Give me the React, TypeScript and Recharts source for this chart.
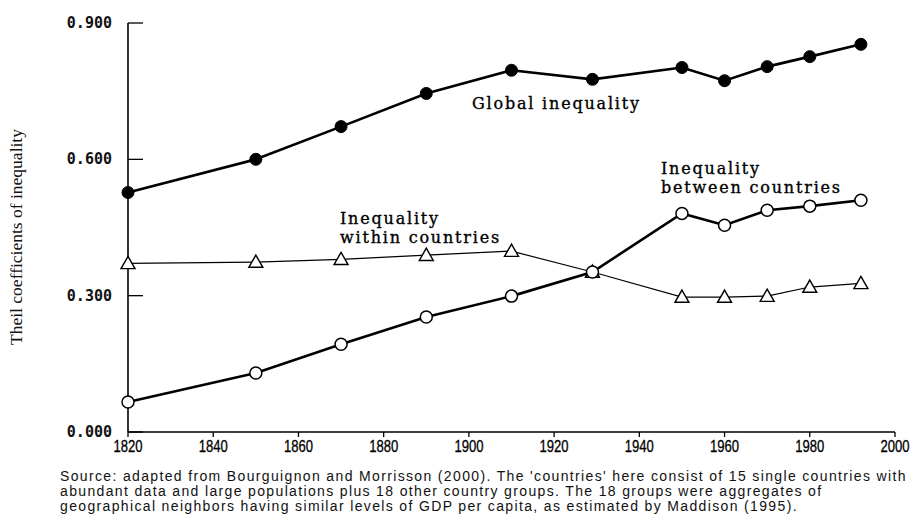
import React from "react";
import { LineChart, Line, XAxis, YAxis } from "recharts";

// Theil coefficients (Bourguignon & Morrisson 2000)
const years = [1820, 1850, 1870, 1890, 1910, 1929, 1950, 1960, 1970, 1980, 1992];
const globalIneq = [0.527, 0.6, 0.672, 0.745, 0.796, 0.776, 0.802, 0.773, 0.804, 0.826, 0.853];
const betweenIneq = [0.066, 0.13, 0.193, 0.253, 0.299, 0.352, 0.481, 0.455, 0.488, 0.497, 0.51];
const withinIneq = [0.371, 0.374, 0.38, 0.389, 0.398, 0.352, 0.297, 0.297, 0.299, 0.319, 0.327];

const xTicks = [1820, 1840, 1860, 1880, 1900, 1920, 1940, 1960, 1980, 2000];
const yTicks = [0, 0.3, 0.6, 0.9];
const rightTicks = [0.3, 0.6, 0.9];

const caption = [
  "Source: adapted from Bourguignon and Morrisson (2000). The 'countries' here consist of 15 single countries with",
  "abundant data and large populations plus 18 other country groups. The 18 groups were aggregates of",
  "geographical neighbors having similar levels of GDP per capita, as estimated by Maddison (1995).",
];

const data = years.map((year, i) => ({
  year,
  global: globalIneq[i],
  between: betweenIneq[i],
  within: withinIneq[i],
}));

const noteStyle = {
  fontFamily: "'DejaVu Serif', serif",
  fontSize: 16,
  letterSpacing: 1.8,
  fill: "#000",
  stroke: "#000",
  strokeWidth: 0.35,
};

// left axis ticks point inward, label sits to the left
const LeftTick = (props: any) => {
  const { x, y, payload } = props;
  return (
    <g>
      <line x1={x} y1={y} x2={x + 15} y2={y} stroke="#000" strokeWidth={1.3} />
      <text
        x={x - 16}
        y={y}
        dy={5}
        textAnchor="end"
        fontFamily="'DejaVu Sans Mono', monospace"
        fontSize={15}
        fontWeight={600}
        fill="#111"
      >
        {payload.value.toFixed(3)}
      </text>
    </g>
  );
};

// narrow year labels like the scanned original
const BottomTick = (props: any) => {
  const { x, y, payload } = props;
  return (
    <text
      x={x}
      y={y}
      dy={13}
      textAnchor="middle"
      textLength={29}
      lengthAdjust="spacingAndGlyphs"
      fontFamily="'Liberation Sans', Arial, sans-serif"
      fontSize={16}
      fill="#000"
      stroke="#000"
      strokeWidth={0.3}
    >
      {payload.value}
    </text>
  );
};

const Triangle = (props: any) => {
  const { cx, cy, index } = props;
  if (cx == null || cy == null) return null;
  const s = 7;
  return (
    <path
      key={`tri-${index}`}
      d={`M${cx},${cy - s} L${cx + s},${cy + s * 0.75} L${cx - s},${cy + s * 0.75} Z`}
      fill="#fff"
      stroke="#000"
      strokeWidth={1.4}
    />
  );
};

export default function App() {
  return (
    <div style={{ position: "relative", width: 915, height: 516, background: "#fff" }}>
      <style>{"body{margin:0}"}</style>
      <LineChart width={915} height={460} data={data} margin={{ top: 23, right: 20, bottom: 0, left: 0 }}>
        <XAxis
          dataKey="year"
          type="number"
          domain={[1820, 2000]}
          ticks={xTicks}
          tickSize={5}
          tickMargin={2}
          height={28}
          axisLine={{ stroke: "#000", strokeWidth: 1.6 }}
          tickLine={{ stroke: "#000", strokeWidth: 1.3 }}
          tick={<BottomTick />}
        />
        <YAxis
          yAxisId="l"
          type="number"
          domain={[0, 0.9]}
          ticks={yTicks}
          width={128}
          tickSize={0}
          tickMargin={0}
          tickLine={false}
          axisLine={{ stroke: "#000", strokeWidth: 1.6 }}
          tick={<LeftTick />}
        />
        <YAxis
          yAxisId="r"
          orientation="right"
          type="number"
          domain={[0, 0.9]}
          ticks={rightTicks}
          width={0}
          mirror
          tickSize={11}
          tickFormatter={() => ""}
          axisLine={{ stroke: "#000", strokeWidth: 1.8 }}
          tickLine={{ stroke: "#000", strokeWidth: 1.3 }}
        />
        <Line
          yAxisId="l"
          dataKey="within"
          stroke="#000"
          strokeWidth={1.2}
          dot={Triangle}
          isAnimationActive={false}
        />
        <Line
          yAxisId="l"
          dataKey="between"
          stroke="#000"
          strokeWidth={2.6}
          dot={{ r: 6, fill: "#fff", stroke: "#000", strokeWidth: 1.5 }}
          isAnimationActive={false}
        />
        <Line
          yAxisId="l"
          dataKey="global"
          stroke="#000"
          strokeWidth={2.6}
          dot={{ r: 6, fill: "#000", stroke: "#000", strokeWidth: 1 }}
          isAnimationActive={false}
        />
      </LineChart>

      {/* annotations */}
      <svg width={915} height={460} style={{ position: "absolute", left: 0, top: 0, pointerEvents: "none" }}>
        <text
          transform="translate(22,237) rotate(-90)"
          textAnchor="middle"
          fontFamily="'Liberation Serif', serif"
          fontSize={17.5}
          fill="#111"
        >
          Theil coefficients of inequality
        </text>
        <text x={472} y={109} style={noteStyle}>
          Global inequality
        </text>
        <text x={340} y={224} style={noteStyle}>
          Inequality
        </text>
        <text x={340} y={243} style={noteStyle}>
          within countries
        </text>
        <text x={661} y={174} style={noteStyle}>
          Inequality
        </text>
        <text x={661} y={193} style={noteStyle}>
          between countries
        </text>
      </svg>

      <div
        style={{
          position: "absolute",
          left: 60,
          top: 469,
          fontFamily: "'Liberation Sans', Arial, sans-serif",
          fontSize: 14,
          lineHeight: "15px",
          letterSpacing: 1.35,
          color: "#111",
          whiteSpace: "nowrap",
        }}
      >
        {caption.map((line, i) => (
          <div key={i}>{line}</div>
        ))}
      </div>
    </div>
  );
}
